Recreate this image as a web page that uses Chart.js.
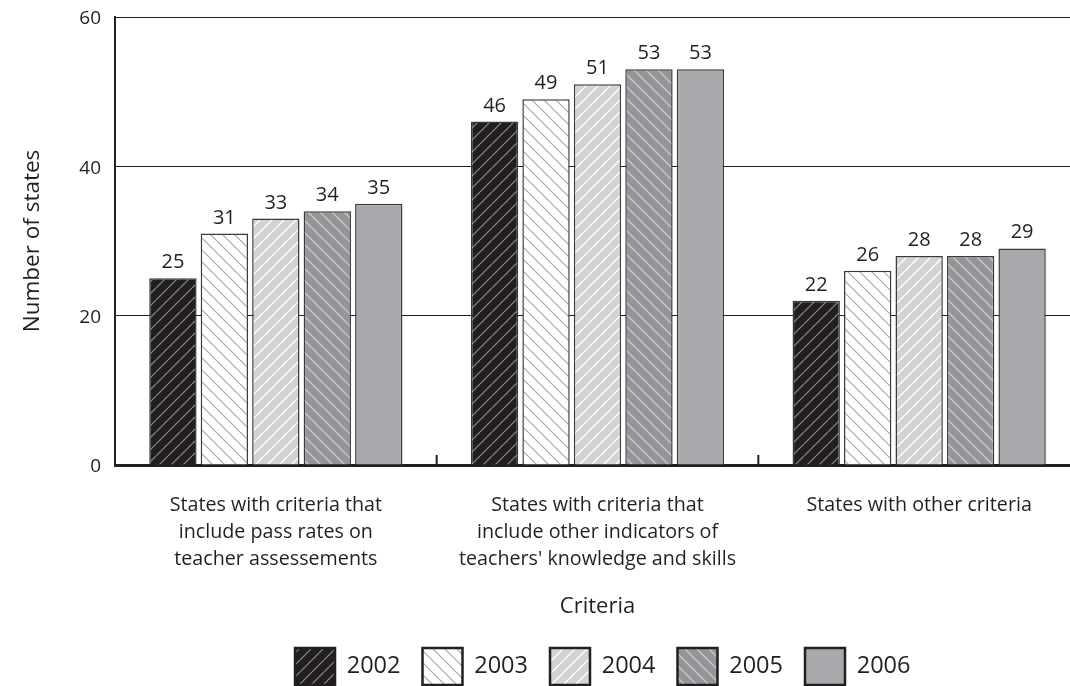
<!DOCTYPE html>
<html>
<head>
<meta charset="utf-8">
<script src="https://cdn.jsdelivr.net/npm/chart.js@4.4.1/dist/chart.umd.min.js"></script>
<style>
  html, body { margin: 0; padding: 0; background: #fff; overflow: hidden; }
  #wrap { width: 1080px; height: 686px; }
</style>
</head>
<body>
<div id="wrap"><canvas id="c"></canvas></div>
<script>
// Criteria groups (multi-line labels), one series per year
const categories = [
  ['States with criteria that', 'include pass rates on', 'teacher assessements'],
  ['States with criteria that', 'include other indicators of', "teachers' knowledge and skills"],
  ['States with other criteria']
];
const years = ['2002', '2003', '2004', '2005', '2006'];
const values2002 = [25, 46, 22];
const values2003 = [31, 49, 26];
const values2004 = [33, 51, 28];
const values2005 = [34, 53, 28];
const values2006 = [35, 53, 29];
const yTicks = [0, 20, 40, 60];

const INK = '#231f20';
const FONT = "'Open Sans', 'DejaVu Sans', sans-serif";

// Diagonal hatch fill: dir '/' or '\\'
function hatch(bg, line, dir, size, lw) {
  const c = document.createElement('canvas');
  c.width = size; c.height = size;
  const g = c.getContext('2d');
  g.fillStyle = bg;
  g.fillRect(0, 0, size, size);
  if (line) {
    g.strokeStyle = line;
    g.lineWidth = lw;
    g.beginPath();
    for (let k = -1; k <= 1; k++) {
      if (dir === '/') {
        g.moveTo(k * size, size);
        g.lineTo(k * size + size, 0);
      } else {
        g.moveTo(k * size, 0);
        g.lineTo(k * size + size, size);
      }
    }
    g.stroke();
  }
  return g.createPattern(c, 'repeat');
}

const fills = [
  hatch('#231f20', '#8c8c8c', '/', 12, 1.2),
  hatch('#ffffff', '#a6a6a6', '\\', 12, 1.2),
  hatch('#d1d3d4', '#ffffff', '/', 12, 1.4),
  hatch('#939598', '#c8c9cb', '\\', 12, 1.4),
  '#a7a9ac'
];
const series = [values2002, values2003, values2004, values2005, values2006];

// Value labels above each bar
const valueLabels = {
  id: 'valueLabels',
  afterDatasetsDraw(chart) {
    const ctx = chart.ctx;
    ctx.save();
    ctx.fillStyle = INK;
    ctx.font = `20px ${FONT}`;
    ctx.textAlign = 'center';
    ctx.textBaseline = 'alphabetic';
    chart.data.datasets.forEach((ds, i) => {
      chart.getDatasetMeta(i).data.forEach((bar, j) => {
        ctx.fillText(String(ds.data[j]), bar.x, bar.y - 10);
      });
    });
    ctx.restore();
  }
};

// Short upward tick marks between category groups on the x axis
const groupTicks = {
  id: 'groupTicks',
  afterDraw(chart) {
    const x = chart.scales.x;
    const ctx = chart.ctx;
    const bottom = chart.chartArea.bottom;
    ctx.save();
    ctx.strokeStyle = INK;
    ctx.lineWidth = 2;
    for (let i = 1; i < categories.length; i++) {
      const px = (x.getPixelForValue(i - 1) + x.getPixelForValue(i)) / 2;
      ctx.beginPath();
      ctx.moveTo(px, bottom);
      ctx.lineTo(px, bottom - 10);
      ctx.stroke();
    }
    ctx.restore();
  }
};

// Legend row starts under the plot, left-aligned from a fixed inset
const legendPlacement = {
  id: 'legendPlacement',
  afterLayout(chart) {
    if (chart.legend) {
      chart.legend.left = 273;
    }
  }
};

new Chart(document.getElementById('c'), {
  type: 'bar',
  data: {
    labels: categories,
    datasets: years.map((y, i) => ({
      label: y,
      data: series[i],
      backgroundColor: fills[i],
      borderColor: '#3a3a3a',
      borderWidth: 1.5,
      borderSkipped: 'bottom',
      categoryPercentage: 0.8,
      barPercentage: 0.92
    }))
  },
  options: {
    responsive: true,
    maintainAspectRatio: false,
    animation: false,
    layout: { padding: { top: 17, left: 0, right: 0, bottom: -9 } },
    plugins: {
      tooltip: { enabled: false },
      legend: {
        position: 'bottom',
        align: 'start',
        labels: {
          color: INK,
          font: { family: FONT, size: 23.5 },
          boxWidth: 40,
          boxHeight: 37,
          padding: 22,
          generateLabels(chart) {
            return chart.data.datasets.map((ds, i) => ({
              text: ds.label,
              fillStyle: ds.backgroundColor,
              strokeStyle: INK,
              lineWidth: 2.5,
              hidden: false,
              datasetIndex: i,
              fontColor: INK
            }));
          }
        }
      }
    },
    scales: {
      x: {
        offset: true,
        grid: { display: false, drawTicks: false },
        border: { display: true, color: INK, width: 3 },
        ticks: {
          color: INK,
          font: { family: FONT, size: 19.7, lineHeight: 1.37 },
          padding: 27,
          maxRotation: 0,
          autoSkip: false
        },
        title: {
          display: true,
          text: 'Criteria',
          color: INK,
          font: { family: FONT, size: 22 },
          padding: { top: 0, bottom: 6 }
        },
        afterFit(s) { s.height = 161; }
      },
      y: {
        min: 0,
        max: 60,
        afterBuildTicks(s) { s.ticks = yTicks.map(v => ({ value: v })); },
        grid: { color: INK, lineWidth: 1, drawTicks: false },
        border: { display: true, color: INK, width: 2 },
        ticks: {
          color: INK,
          font: { family: FONT, size: 19 },
          padding: 14,
          labelOffset: 2
        },
        title: {
          display: true,
          text: 'Number of states',
          color: INK,
          font: { family: FONT, size: 22.5 },
          padding: { top: 19, bottom: 0 }
        },
        afterFit(s) {
          s.width = 115;
          s.paddingTop = 0;
        }
      }
    }
  },
  plugins: [valueLabels, groupTicks, legendPlacement]
});
</script>
</body>
</html>
